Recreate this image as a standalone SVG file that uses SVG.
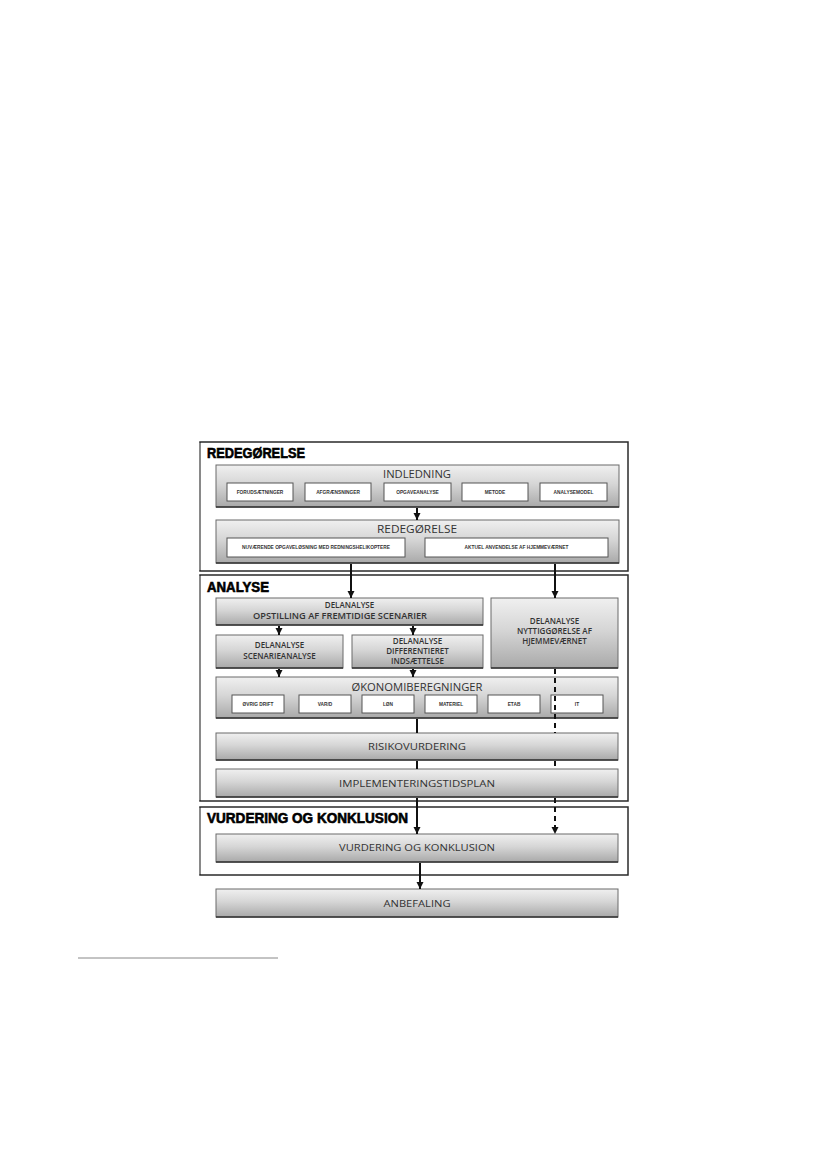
<svg xmlns="http://www.w3.org/2000/svg" width="827" height="1169" viewBox="0 0 827 1169">
<defs>
<linearGradient id="g" x1="0" y1="0" x2="0" y2="1">
<stop offset="0" stop-color="#f0f0f0"/>
<stop offset="0.45" stop-color="#d6d6d6"/>
<stop offset="1" stop-color="#a9a9a9"/>
</linearGradient>
<marker id="ah" viewBox="0 -4 7 8" refX="7" refY="0" markerWidth="7" markerHeight="8" markerUnits="userSpaceOnUse" orient="auto">
<path d="M0,-3.5 L7,0 L0,3.5 z" fill="#111"/>
</marker>
<style>
.sec{fill:#fff;stroke:#2a2a2a;stroke-width:1.5}
.secl{stroke:#999;stroke-width:1.5}
.box{fill:url(#g);stroke:#6a6a6a;stroke-width:1}
.sub{fill:#fff;stroke:#555;stroke-width:1}
.hd{font-family:"Liberation Sans",Arial,sans-serif;font-weight:bold;font-size:14px;fill:#000;stroke:#000;stroke-width:0.6}
.t1{font-family:"Open Sans","Liberation Sans",sans-serif;font-size:11.5px;fill:#333;text-anchor:middle}
.t2{font-family:"Open Sans","Liberation Sans",sans-serif;font-size:8px;fill:#333;text-anchor:middle;font-weight:600}
.t4{font-family:"Open Sans","Liberation Sans",sans-serif;font-size:9.5px;fill:#333;text-anchor:middle}
.t3{font-family:"Liberation Sans",Arial,sans-serif;font-size:4.8px;fill:#333;text-anchor:middle;font-weight:bold}
.ln{stroke:#111;stroke-width:2;fill:none}
.ds{stroke:#111;stroke-width:2;fill:none;stroke-dasharray:5,4}
</style>
</defs>
<rect width="827" height="1169" fill="#fff"/>

<g id="sections">
<g id="sec-redegorelse">
<rect class="sec" x="200" y="442" width="428" height="129"/>
<line class="secl" x1="200" y1="443" x2="200" y2="570"/>
<text class="hd" x="207" y="458" textLength="98" lengthAdjust="spacingAndGlyphs">REDEGØRELSE</text>
</g>
<g id="sec-analyse">
<rect class="sec" x="200" y="575" width="428" height="226"/>
<line class="secl" x1="200" y1="576" x2="200" y2="800"/>
<text class="hd" x="207" y="592" textLength="62" lengthAdjust="spacingAndGlyphs">ANALYSE</text>
</g>
<g id="sec-vurdering">
<rect class="sec" x="200" y="807" width="428" height="68"/>
<line class="secl" x1="200" y1="808" x2="200" y2="874"/>
<text class="hd" x="207" y="823" textLength="201" lengthAdjust="spacingAndGlyphs">VURDERING OG KONKLUSION</text>
</g>
</g>

<g id="n-indledning">
<rect class="box" x="216" y="465" width="403" height="42"/>
<line x1="216" y1="507" x2="619" y2="507" stroke="#333" stroke-width="1.5"/>
<text class="t1" x="417" y="478" textLength="68" lengthAdjust="spacingAndGlyphs">INDLEDNING</text>
<rect class="sub" x="227" y="483" width="66" height="18"/>
<text class="t3" x="260" y="494">FORUDSÆTNINGER</text>
<rect class="sub" x="305" y="483" width="66" height="18"/>
<text class="t3" x="338" y="494">AFGRÆNSNINGER</text>
<rect class="sub" x="384" y="483" width="67" height="18"/>
<text class="t3" x="417.5" y="494">OPGAVEANALYSE</text>
<rect class="sub" x="462" y="483" width="66" height="18"/>
<text class="t3" x="495" y="494">METODE</text>
<rect class="sub" x="540" y="483" width="67" height="18"/>
<text class="t3" x="573.5" y="494">ANALYSEMODEL</text>
</g>

<g id="n-redegorelse">
<rect class="box" x="216" y="520" width="403" height="43"/>
<line x1="216" y1="563" x2="619" y2="563" stroke="#333" stroke-width="1.5"/>
<text class="t1" x="417" y="533" textLength="80" lengthAdjust="spacingAndGlyphs">REDEGØRELSE</text>
<rect class="sub" x="227" y="538" width="178" height="19"/>
<text class="t3" x="316" y="549">NUVÆRENDE OPGAVELØSNING  MED  REDNINGSHELIKOPTERE</text>
<rect class="sub" x="425" y="538" width="183" height="19"/>
<text class="t3" x="516.5" y="549">AKTUEL ANVENDELSE  AF HJEMMEVÆRNET</text>
</g>

<g id="n-opstilling">
<rect class="box" x="216" y="598" width="267" height="27"/>
<line x1="216" y1="625" x2="483" y2="625" stroke="#333" stroke-width="1.3"/>
<text class="t2" x="349.5" y="608">DELANALYSE</text>
<text class="t2" x="340" y="619" textLength="174" lengthAdjust="spacingAndGlyphs">OPSTILLING AF FREMTIDIGE SCENARIER</text>
</g>

<g id="n-scenarie">
<rect class="box" x="216" y="635" width="127" height="33"/>
<line x1="216" y1="668" x2="343" y2="668" stroke="#333" stroke-width="1.3"/>
<text class="t2" x="279.5" y="648">DELANALYSE</text>
<text class="t2" x="279.5" y="659">SCENARIEANALYSE</text>
</g>

<g id="n-differentieret">
<rect class="box" x="352" y="635" width="131" height="33"/>
<line x1="352" y1="668" x2="483" y2="668" stroke="#333" stroke-width="1.3"/>
<text class="t2" x="417.5" y="644">DELANALYSE</text>
<text class="t2" x="417.5" y="654">DIFFERENTIERET</text>
<text class="t2" x="417.5" y="664">INDSÆTTELSE</text>
</g>

<g id="n-nyttiggorelse">
<rect class="box" x="491" y="598" width="127" height="70"/>
<line x1="491" y1="668" x2="618" y2="668" stroke="#333" stroke-width="1.3"/>
<text class="t2" x="554.5" y="624">DELANALYSE</text>
<text class="t2" x="554.5" y="634">NYTTIGGØRELSE AF</text>
<text class="t2" x="554.5" y="644">HJEMMEVÆRNET</text>
</g>

<g id="n-okonomi">
<rect class="box" x="216" y="677" width="402" height="41"/>
<line x1="216" y1="718" x2="618" y2="718" stroke="#333" stroke-width="1.5"/>
<text class="t1" x="417" y="691" textLength="131" lengthAdjust="spacingAndGlyphs">ØKONOMIBEREGNINGER</text>
<rect class="sub" x="232" y="695" width="52" height="18"/>
<text class="t3" x="258" y="706">ØVRIG DRIFT</text>
<rect class="sub" x="299" y="695" width="52" height="18"/>
<text class="t3" x="325" y="706">VAR/D</text>
<rect class="sub" x="362" y="695" width="52" height="18"/>
<text class="t3" x="388" y="706">LØN</text>
<rect class="sub" x="425" y="695" width="52" height="18"/>
<text class="t3" x="451" y="706">MATERIEL</text>
<rect class="sub" x="488" y="695" width="52" height="18"/>
<text class="t3" x="514" y="706">ETAB</text>
<rect class="sub" x="551" y="695" width="52" height="18"/>
<text class="t3" x="577" y="706">IT</text>
</g>

<g id="n-risiko">
<rect class="box" x="216" y="733" width="402" height="27"/>
<line x1="216" y1="760" x2="618" y2="760" stroke="#333" stroke-width="1.3"/>
<text class="t4" x="417" y="750" textLength="98" lengthAdjust="spacingAndGlyphs">RISIKOVURDERING</text>
</g>

<g id="n-implementering">
<rect class="box" x="216" y="769" width="402" height="28"/>
<line x1="216" y1="797" x2="618" y2="797" stroke="#333" stroke-width="1.3"/>
<text class="t4" x="417" y="787" textLength="156" lengthAdjust="spacingAndGlyphs">IMPLEMENTERINGSTIDSPLAN</text>
</g>

<g id="n-vurdering">
<rect class="box" x="216" y="834" width="402" height="28"/>
<line x1="216" y1="862" x2="618" y2="862" stroke="#333" stroke-width="1.3"/>
<text class="t4" x="417" y="851" textLength="156" lengthAdjust="spacingAndGlyphs">VURDERING OG KONKLUSION</text>
</g>

<g id="n-anbefaling">
<rect class="box" x="216" y="889" width="402" height="28"/>
<line x1="216" y1="917" x2="618" y2="917" stroke="#333" stroke-width="1.3"/>
<text class="t4" x="417" y="907" textLength="67" lengthAdjust="spacingAndGlyphs">ANBEFALING</text>
</g>

<g id="connectors">
<line class="ln" x1="417" y1="508" x2="417" y2="520" marker-end="url(#ah)"/>
<line class="ln" x1="351" y1="564" x2="351" y2="598" marker-end="url(#ah)"/>
<line class="ln" x1="555" y1="564" x2="555" y2="598" marker-end="url(#ah)"/>
<line class="ln" x1="279" y1="626" x2="279" y2="635" marker-end="url(#ah)"/>
<line class="ln" x1="413" y1="626" x2="413" y2="635" marker-end="url(#ah)"/>
<line class="ln" x1="279" y1="669" x2="279" y2="677" marker-end="url(#ah)"/>
<line class="ln" x1="413" y1="669" x2="413" y2="677" marker-end="url(#ah)"/>
<path class="ln" d="M417,719 V733 M417,761 V769"/>
<line class="ln" x1="417" y1="798" x2="417" y2="834" marker-end="url(#ah)"/>
<path class="ds" d="M555,669 V733 M555,761 V769"/>
<line class="ds" x1="555" y1="798" x2="555" y2="834" marker-end="url(#ah)"/>
<line class="ln" x1="420" y1="863" x2="420" y2="889" marker-end="url(#ah)"/>
</g>

<line x1="78" y1="958" x2="278" y2="958" stroke="#888" stroke-width="1"/>
</svg>
